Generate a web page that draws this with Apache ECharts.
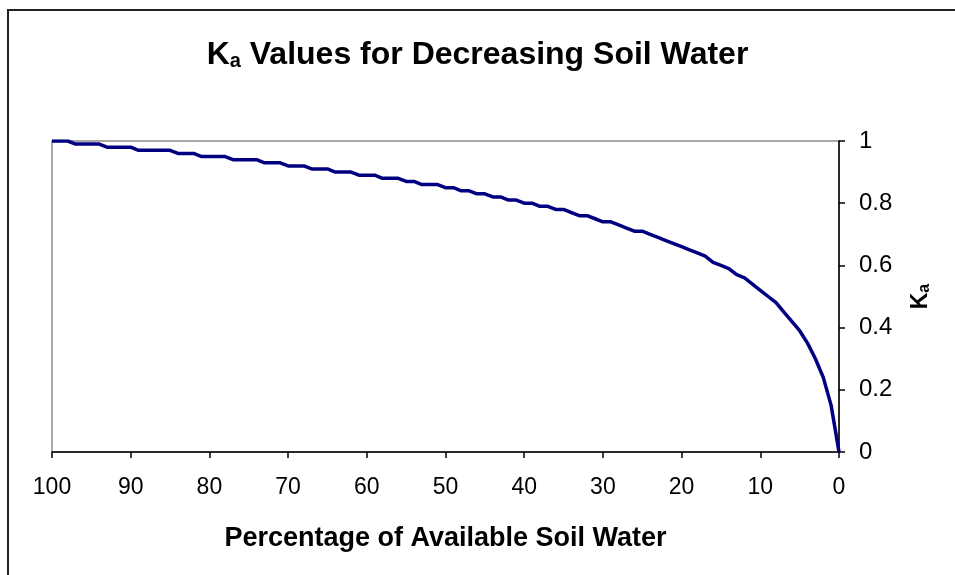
<!DOCTYPE html>
<html>
<head>
<meta charset="utf-8">
<script src="https://cdn.jsdelivr.net/npm/echarts@6/dist/echarts.min.js"></script>
<style>
  html, body { margin: 0; padding: 0; background: #fff; }
  #chart { width: 955px; height: 575px; }
</style>
</head>
<body>
<div id="chart"></div>
<script>
// percentage of available soil water, 100 down to 0
const availWater = [
  100, 99, 98, 97, 96, 95, 94, 93, 92, 91, 90, 89, 88, 87, 86, 85, 84, 83, 82, 81,
  80, 79, 78, 77, 76, 75, 74, 73, 72, 71, 70, 69, 68, 67, 66, 65, 64, 63, 62, 61,
  60, 59, 58, 57, 56, 55, 54, 53, 52, 51, 50, 49, 48, 47, 46, 45, 44, 43, 42, 41,
  40, 39, 38, 37, 36, 35, 34, 33, 32, 31, 30, 29, 28, 27, 26, 25, 24, 23, 22, 21,
  20, 19, 18, 17, 16, 15, 14, 13, 12, 11, 10, 9, 8, 7, 6, 5, 4, 3, 2, 1, 0
]

// Ka (steps of 0.01)
const kaValues = [
  1.00, 1.00, 1.00, 0.99, 0.99, 0.99, 0.99, 0.98, 0.98, 0.98, 0.98, 0.97, 0.97, 0.97, 0.97, 0.97, 0.96, 0.96, 0.96, 0.95,
  0.95, 0.95, 0.95, 0.94, 0.94, 0.94, 0.94, 0.93, 0.93, 0.93, 0.92, 0.92, 0.92, 0.91, 0.91, 0.91, 0.90, 0.90, 0.90, 0.89,
  0.89, 0.89, 0.88, 0.88, 0.88, 0.87, 0.87, 0.86, 0.86, 0.86, 0.85, 0.85, 0.84, 0.84, 0.83, 0.83, 0.82, 0.82, 0.81, 0.81,
  0.80, 0.80, 0.79, 0.79, 0.78, 0.78, 0.77, 0.76, 0.76, 0.75, 0.74, 0.74, 0.73, 0.72, 0.71, 0.71, 0.70, 0.69, 0.68, 0.67,
  0.66, 0.65, 0.64, 0.63, 0.61, 0.60, 0.59, 0.57, 0.56, 0.54, 0.52, 0.50, 0.48, 0.45, 0.42, 0.39, 0.35, 0.30, 0.24, 0.15, 0.00
]

const xTicks = { min: 0, max: 100, interval: 10 }
const yTicks = { min: 0, max: 1, interval: 0.2 }

const font = "'Liberation Sans', Arial, sans-serif"

const chart = echarts.init(document.getElementById("chart"))

chart.setOption({
  animation: false,
  backgroundColor: "#fff",
  textStyle: { fontFamily: font },
  graphic: [
    {
      type: "rect",
      shape: { x: 8, y: 10, width: 1200, height: 900 },
      style: { fill: "none", stroke: "#222", lineWidth: 2 },
      silent: true,
    },
  ],
  title: {
    left: "center",
    top: 34,
    text: "{k|K}{s|a}{t| Values for Decreasing Soil Water}",
    textStyle: {
      rich: {
        k: { fontSize: 32, fontWeight: "bold", color: "#000", fontFamily: font },
        s: { fontSize: 20, fontWeight: "bold", color: "#000", fontFamily: font, padding: [12, 0, 0, 0] },
        t: { fontSize: 32, fontWeight: "bold", color: "#000", fontFamily: font },
      },
    },
  },
  grid: {
    left: 52,
    right: 116,
    top: 141,
    bottom: 123,
    show: true,
    borderColor: "#8c8c8c",
    borderWidth: 1.5,
  },
  xAxis: {
    type: "value",
    inverse: true,
    min: xTicks.min,
    max: xTicks.max,
    interval: xTicks.interval,
    name: "Percentage of Available Soil Water",
    nameLocation: "middle",
    nameGap: 73,
    nameTextStyle: { fontSize: 27, fontWeight: "bold", color: "#000", fontFamily: font },
    axisLine: { show: true, onZero: false, lineStyle: { color: "#000", width: 1.5 } },
    axisTick: { show: true, inside: false, length: 6, lineStyle: { color: "#000", width: 1.5 } },
    axisLabel: { margin: 24, fontSize: 23, color: "#000", fontFamily: font },
    splitLine: { show: false },
  },
  yAxis: {
    type: "value",
    position: "right",
    min: yTicks.min,
    max: yTicks.max,
    interval: yTicks.interval,
    name: "{k|K}{s|a}",
    nameLocation: "middle",
    nameRotate: 90,
    nameGap: 70,
    nameTextStyle: {
      rich: {
        k: { fontSize: 23, fontWeight: "bold", color: "#000", fontFamily: font },
        s: { fontSize: 16, fontWeight: "bold", color: "#000", fontFamily: font, padding: [8, 0, 0, 0] },
      },
    },
    axisLine: { show: true, lineStyle: { color: "#000", width: 1.5 } },
    axisTick: { show: true, inside: false, length: 6, lineStyle: { color: "#000", width: 1.5 } },
    axisLabel: { margin: 20, fontSize: 24, color: "#000", fontFamily: font },
    splitLine: { show: false },
  },
  series: [
    {
      type: "line",
      data: availWater.map((x, i) => [x, kaValues[i]]),
      showSymbol: false,
      smooth: false,
      lineStyle: { color: "#000080", width: 3.5 },
    },
  ],
})
</script>
</body>
</html>
